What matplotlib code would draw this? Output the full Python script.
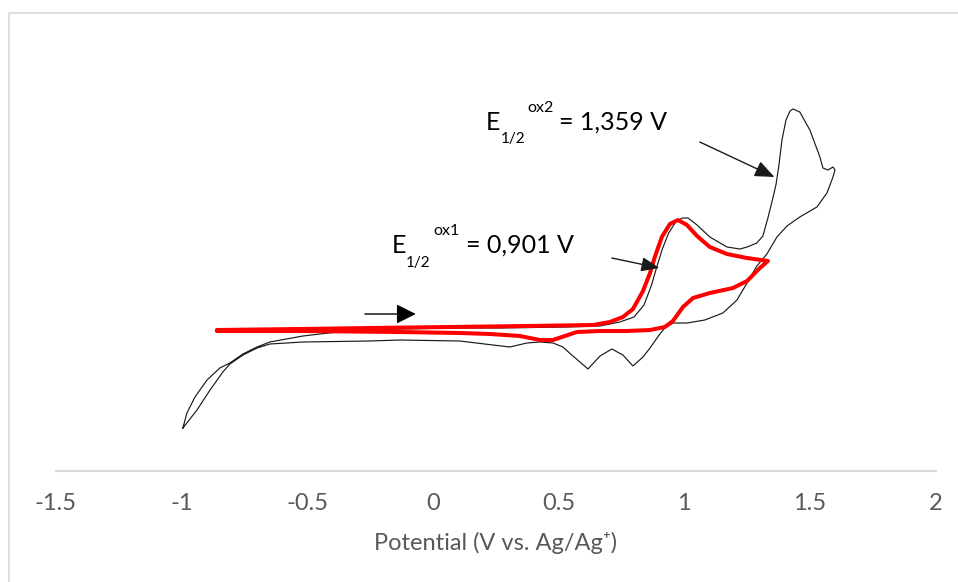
import matplotlib
matplotlib.use("Agg")
import matplotlib.pyplot as plt
from matplotlib.lines import Line2D

plt.rcParams['font.family'] = ['Lato', 'DejaVu Sans']

# ---- data (potential in V vs Ag/Ag+, current in arbitrary units) ----
black_fwd_v = [-0.995, -0.979, -0.947, -0.899, -0.848, -0.808, -0.756, -0.700, -0.649,
               -0.517, -0.382, -0.279, -0.131, 0.068, 0.267, 0.533, 0.665, 0.744,
               0.800, 0.840, 0.870, 0.893, 0.913, 0.938, 0.966, 0.992, 1.015, 1.051, 1.102,
               1.170, 1.222, 1.250, 1.289, 1.313, 1.333, 1.349, 1.365, 1.377, 1.389,
               1.405, 1.421, 1.433, 1.460, 1.500, 1.540, 1.552, 1.572, 1.592, 1.600]
black_fwd_i = [4.3, 5.8, 7.4, 9.1, 10.3, 10.8, 11.7, 12.4, 12.9,
               13.5, 13.9, 14.1, 14.2, 14.3, 14.3, 14.4, 14.5, 14.9,
               15.4, 16.6, 18.6, 20.6, 22.2, 23.8, 24.9, 25.3, 25.3, 24.6, 23.4,
               22.4, 22.2, 22.4, 22.8, 23.5, 25.3, 26.9, 28.6, 30.6, 33.1,
               35.1, 36.0, 36.2, 35.9, 34.1, 31.4, 30.3, 30.1, 30.4, 30.1]
black_rev_v = [1.592, 1.568, 1.528, 1.460, 1.409, 1.369, 1.329, 1.289, 1.250, 1.210,
               1.154, 1.082, 1.011, 0.955, 0.923, 0.903, 0.864, 0.836, 0.796, 0.756,
               0.712, 0.665, 0.617, 0.585, 0.557, 0.517, 0.478, 0.426, 0.374, 0.306,
               0.239, 0.107, -0.131, -0.251, -0.517, -0.649, -0.700, -0.756, -0.808,
               -0.836, -0.887, -0.939, -0.995]
black_rev_i = [29.4, 27.8, 26.4, 25.4, 24.5, 23.4, 21.7, 20.5, 18.8, 17.1,
               15.8, 15.1, 14.8, 14.8, 14.3, 13.7, 12.3, 11.4, 10.5, 11.6,
               12.2, 11.5, 10.2, 10.9, 11.5, 12.4, 12.8, 12.9, 12.8, 12.4,
               12.6, 13.0, 13.1, 13.0, 12.9, 12.7, 12.3, 11.6, 10.7,
               9.9, 8.1, 6.1, 4.3]

red_fwd_v = [-0.860, -0.529, -0.251, 0.068, 0.374, 0.637, 0.704, 0.756, 0.796, 0.836,
             0.864, 0.883, 0.911, 0.943, 0.975, 1.011, 1.051, 1.102, 1.170, 1.250, 1.333]
red_fwd_i = [14.1, 14.2, 14.3, 14.4, 14.5, 14.6, 14.9, 15.4, 16.2, 18.0,
             19.8, 21.4, 23.4, 24.7, 25.1, 24.6, 23.5, 22.4, 21.7, 21.3, 21.0]
red_rev_v = [1.301, 1.250, 1.194, 1.102, 1.035, 0.995, 0.955, 0.923, 0.864, 0.772,
             0.665, 0.573, 0.525, 0.478, 0.426, 0.346, 0.227, 0.107, -0.131, -0.529, -0.860]
red_rev_i = [20.3, 19.0, 18.3, 17.8, 17.3, 16.4, 15.0, 14.4, 14.1, 14.0,
             14.0, 13.9, 13.5, 13.1, 13.1, 13.5, 13.7, 13.8, 13.9, 14.0, 14.0]

xticks = [-1.5, -1, -0.5, 0, 0.5, 1, 1.5, 2]
xticklabels = ['-1.5', '-1', '-0.5', '0', '0.5', '1', '1.5', '2']
e_ox1 = 0.901
e_ox2 = 1.359

# ---- figure ----
W, H = 958, 582
fig = plt.figure(figsize=(W / 100, H / 100), dpi=100)
ax = fig.add_axes([56 / W, (H - 471) / H, 879.5 / W, 451 / H])
ax.set_xlim(-1.5, 2)
ax.set_ylim(0, 45.1)

ax.plot(black_fwd_v + black_rev_v, black_fwd_i + black_rev_i,
        color='#1a1a1a', lw=0.85, solid_joinstyle='round')
ax.plot(red_fwd_v + red_rev_v, red_fwd_i + red_rev_i,
        color='#ff0000', lw=2.9, solid_joinstyle='round', solid_capstyle='round')

for s in ['top', 'right', 'left']:
    ax.spines[s].set_visible(False)
ax.spines['bottom'].set_color('#d9d9d9')
ax.spines['bottom'].set_linewidth(1.5)
ax.set_yticks([])
ax.set_xticks(xticks)
ax.set_xticklabels(xticklabels)
ax.tick_params(axis='x', length=0, pad=16, labelsize=17, labelcolor='#595959')
ax.set_xlabel('Potential (V vs. Ag/Ag⁺)', fontsize=17, color='#595959', va='baseline')
ax.xaxis.set_label_coords(0.5, -(550 - 471) / 451)

# arrows
ax.annotate('', xy=(e_ox2, 29.4), xytext=(1.062, 32.9),
            arrowprops=dict(arrowstyle='-|>,head_length=0.6,head_width=0.25',
                            mutation_scale=20, lw=1.0, color='#1a1a1a',
                            shrinkA=0, shrinkB=0))
ax.annotate('', xy=(e_ox1, 20.3), xytext=(0.712, 21.3),
            arrowprops=dict(arrowstyle='-|>,head_length=0.55,head_width=0.22',
                            mutation_scale=20, lw=1.0, color='#1a1a1a',
                            shrinkA=0, shrinkB=0))
ax.annotate('', xy=(-0.068, 15.7), xytext=(-0.271, 15.7),
            arrowprops=dict(arrowstyle='-|>,head_length=0.6,head_width=0.3',
                            mutation_scale=20, lw=1.0, color='black',
                            shrinkA=0, shrinkB=0))

# annotation text (pixel positions)
def ftxt(x, y, s, size):
    fig.text(x / W, 1 - y / H, s, fontsize=size, ha='left', va='baseline', color='black')

ftxt(486, 130, 'E', 18)
ftxt(501, 143, '1/2', 11)
ftxt(527, 112, 'ox2', 11.5)
ftxt(559, 130, '= 1,359 V', 18)

ftxt(392, 253, 'E', 18)
ftxt(406, 267, '1/2', 11)
ftxt(433, 235, 'ox1', 11.5)
ftxt(466, 253, '= 0,901 V', 18)

# chart-area border (left and top edges visible)
fig.add_artist(Line2D([9 / W, 9 / W, 1.0], [0.0, 1 - 13 / H, 1 - 13 / H],
                      transform=fig.transFigure, color='#d9d9d9', lw=1.2))

fig.savefig('out.png', dpi=100)
